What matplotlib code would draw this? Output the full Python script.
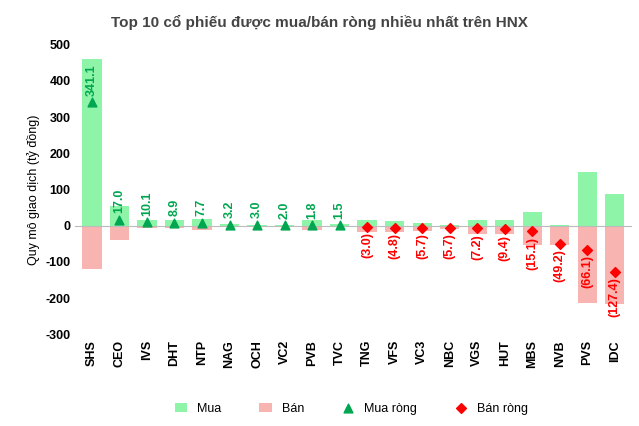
import matplotlib
matplotlib.use("Agg")
import matplotlib.pyplot as plt
import matplotlib.transforms as mt
import numpy as np

plt.rcParams["font.family"] = "Liberation Sans"
plt.rcParams["axes.unicode_minus"] = False

tickers = ["SHS","CEO","IVS","DHT","NTP","NAG","OCH","VC2","PVB","TVC","TNG","VFS","VC3","NBC","VGS","HUT","MBS","NVB","PVS","IDC"]
mua = [460,55,15,15,20,5,3,3,15,5,15,12,8,2,15,15,38,3,148,88]
ban = [-120,-38,-5,-6,-12,-2,-1,-1,-13,-3,-18,-17,-14,-8,-22,-24,-53,-52,-214,-215]
net = [341.1,17.0,10.1,8.9,7.7,3.2,3.0,2.0,1.8,1.5,-3.0,-4.8,-5.7,-5.7,-7.2,-9.4,-15.1,-49.2,-66.1,-127.4]

fig = plt.figure(figsize=(6.39,4.26), dpi=100)
ax = fig.add_axes([0.118,0.215,0.87,0.68])
x = np.arange(len(tickers))
h1 = ax.bar(x, mua, width=0.7, color="#8ef5a8", label="Mua")
h2 = ax.bar(x, ban, width=0.7, color="#f8b4b0", label="Bán")
pos = [i for i,v in enumerate(net) if v>=0]
neg = [i for i,v in enumerate(net) if v<0]
h3 = ax.scatter([x[i] for i in pos],[net[i] for i in pos], marker="^", color="#00a650", s=40, zorder=3, label="Mua ròng")
h4 = ax.scatter([x[i] for i in neg],[net[i] for i in neg], marker="D", color="#ff0000", s=25, zorder=3, label="Bán ròng")
for i,v in enumerate(net):
    if v>=0:
        ax.text(x[i], v+18, f"{v:.1f}", rotation=90, ha="center", va="bottom", color="#00a650", fontsize=9, fontweight="bold")
    else:
        ax.text(x[i], v-15, f"({-v:.1f})", rotation=90, ha="center", va="top", color="#ff0000", fontsize=9, fontweight="bold")
ax.set_ylim(-300,500)
ax.set_yticks(range(-300,501,100))
ax.set_xlim(-0.6,len(tickers)-0.4)
ax.set_xticks(x)
ax.set_xticklabels(tickers, fontsize=9, fontweight="bold")
ax.tick_params(axis="y", labelsize=9, length=0)
for l in ax.get_yticklabels(): l.set_fontweight("bold")
ax.tick_params(axis="x", length=0)
for s in ["top","right","left"]:
    ax.spines[s].set_visible(False)
ax.spines["bottom"].set_position(("data",0))
ax.spines["bottom"].set_color("#bbbbbb")
ax.set_ylabel("Quy mô giao dịch (tỷ đồng)", fontsize=9)
off = mt.ScaledTranslation(0, -4/72, fig.dpi_scale_trans)
for i, lab in enumerate(ax.get_xticklabels()):
    lab.set_visible(False)
for i, t in enumerate(tickers):
    ax.text(x[i], 0, t, rotation=90, ha="center", va="top", fontsize=9, fontweight="bold",
            transform=mt.blended_transform_factory(ax.transData, ax.transAxes) + off)
fig.suptitle("Top 10 cổ phiếu được mua/bán ròng nhiều nhất trên HNX", fontsize=11, fontweight="bold", color="#444444", y=0.965)
fig.legend(handles=[h1,h2,h3,h4], labels=["Mua","Bán","Mua ròng","Bán ròng"], loc="lower center", ncol=4,
           frameon=False, fontsize=9, bbox_to_anchor=(0.55,0.0), handlelength=1, columnspacing=3)
fig.savefig("out.png", dpi=100)
